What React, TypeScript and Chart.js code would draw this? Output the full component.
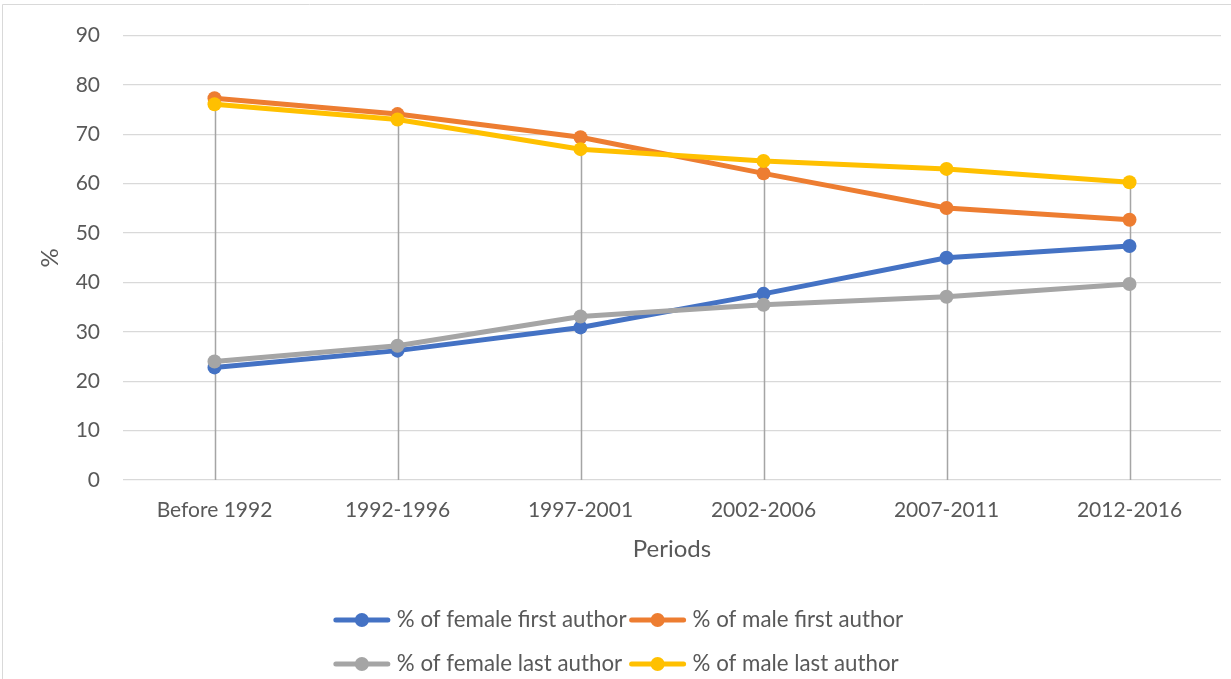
import React, { useEffect, useRef } from 'react';
import { Chart, registerables } from 'chart.js';

Chart.register(...registerables);

const periods = ['Before 1992', '1992-1996', '1997-2001', '2002-2006', '2007-2011', '2012-2016'];
const femaleFirst = [22.8, 26.2, 30.9, 37.7, 45.0, 47.4];
const maleFirst = [77.3, 74.1, 69.4, 62.1, 55.1, 52.7];
const femaleLast = [24.0, 27.2, 33.1, 35.5, 37.1, 39.7];
const maleLast = [76.1, 73.0, 67.0, 64.6, 63.0, 60.3];
const seriesLabels = [
  '% of female first author',
  '% of male first author',
  '% of female last author',
  '% of male last author',
];
const seriesColors = ['#4472C4', '#ED7D31', '#A5A5A5', '#FFC000'];
const yMin = 0;
const yMax = 90;
const yStep = 10;
const xTitle = 'Periods';
const yTitle = '%';

const FONT = 'Lato, "Open Sans", sans-serif';
const TEXT = '#595959';

const dropLines = {
  id: 'dropLines',
  beforeDatasetsDraw(chart: any) {
    const { ctx, scales } = chart;
    const x = scales.x;
    const y = scales.y;
    ctx.save();
    ctx.strokeStyle = '#A5A5A5';
    ctx.lineWidth = 1.5;
    (chart.data.labels as string[]).forEach((_, i) => {
      const vals = chart.data.datasets.map((d: any) => d.data[i] as number);
      const top = Math.max(...vals);
      const px = Math.round(x.getPixelForValue(i)) + 0.5;
      ctx.beginPath();
      ctx.moveTo(px, y.getPixelForValue(top));
      ctx.lineTo(px, y.getPixelForValue(yMin));
      ctx.stroke();
    });
    ctx.restore();
  },
};

const customLegend = {
  id: 'customLegend',
  afterDraw(chart: any) {
    const { ctx, width, height } = chart;
    const ds = chart.data.datasets;
    ctx.save();
    // chart outline
    ctx.strokeStyle = '#D9D9D9';
    ctx.lineWidth = 1;
    ctx.beginPath();
    ctx.moveTo(2.5, height);
    ctx.lineTo(2.5, 4.5);
    ctx.lineTo(width, 4.5);
    ctx.stroke();

    ctx.font = `22.3px ${FONT}`;
    ctx.textBaseline = 'middle';
    ctx.textAlign = 'left';
    const cols = 2;
    const symW = 52;
    const gap = 9;
    const colGap = 5;
    const colWidths: number[] = [];
    for (let c = 0; c < cols; c++) {
      const w = Math.max(
        ...ds.filter((_: any, i: number) => i % cols === c).map((d: any) => ctx.measureText(d.label).width)
      );
      colWidths.push(symW + gap + w + colGap);
    }
    const total = colWidths.reduce((a, b) => a + b, 0) - colGap;
    const startX = (width - total) / 2 + 4;
    const rowsY = [620, 664];
    ds.forEach((d: any, i: number) => {
      const c = i % cols;
      const r = Math.floor(i / cols);
      let x = startX;
      for (let k = 0; k < c; k++) x += colWidths[k];
      const y = rowsY[r];
      ctx.strokeStyle = d.borderColor;
      ctx.lineWidth = 5;
      ctx.lineCap = 'round';
      ctx.beginPath();
      ctx.moveTo(x, y);
      ctx.lineTo(x + symW, y);
      ctx.stroke();
      ctx.fillStyle = d.borderColor;
      ctx.beginPath();
      ctx.arc(x + symW / 2, y, 7, 0, Math.PI * 2);
      ctx.fill();
      ctx.fillStyle = TEXT;
      ctx.fillText(d.label, x + symW + gap, y);
    });
    ctx.restore();
  },
};

export default function App() {
  const ref = useRef<HTMLCanvasElement>(null);
  useEffect(() => {
    if (!ref.current) return;
    const series = [femaleFirst, maleFirst, femaleLast, maleLast];
    const chart = new Chart(ref.current, {
      type: 'line',
      data: {
        labels: periods,
        datasets: series.map((data, i) => ({
          label: seriesLabels[i],
          data,
          borderColor: seriesColors[i],
          backgroundColor: seriesColors[i],
          borderWidth: 5,
          pointRadius: 7,
          pointBorderWidth: 0,
          pointHoverRadius: 7,
          fill: false,
          tension: 0,
          order: series.length - i,
        })),
      },
      options: {
        animation: false,
        responsive: true,
        maintainAspectRatio: false,
        layout: { padding: { left: 0, right: 10, top: 34, bottom: 115.6 } },
        plugins: {
          legend: { display: false },
          tooltip: { enabled: false },
        },
        scales: {
          x: {
            offset: true,
            grid: { display: false, drawTicks: false },
            border: { display: false },
            ticks: { color: TEXT, font: { family: FONT, size: 21 }, padding: 18, maxRotation: 0 },
            title: {
              display: true,
              text: xTitle,
              color: TEXT,
              font: { family: FONT, size: 24 },
              padding: { top: 11, bottom: 0 },
            },
            afterFit(scale: any) {
              scale.height = 83.4;
            },
          },
          y: {
            min: yMin,
            max: yMax,
            ticks: { stepSize: yStep, color: TEXT, font: { family: FONT, size: 21 }, padding: 23 },
            grid: { color: '#D9D9D9', lineWidth: 1.3, drawTicks: false },
            border: { display: false },
            title: {
              display: true,
              text: yTitle,
              color: TEXT,
              font: { family: FONT, size: 24 },
              padding: { top: 36, bottom: 0 },
            },
            afterFit(scale: any) {
              scale.width = 123;
            },
          },
        },
      },
      plugins: [dropLines, customLegend],
    });
    return () => chart.destroy();
  }, []);
  return (
    <div style={{ position: 'absolute', left: 0, top: 0, width: 1231, height: 679, background: '#fff' }}>
      <canvas ref={ref} />
    </div>
  );
}
